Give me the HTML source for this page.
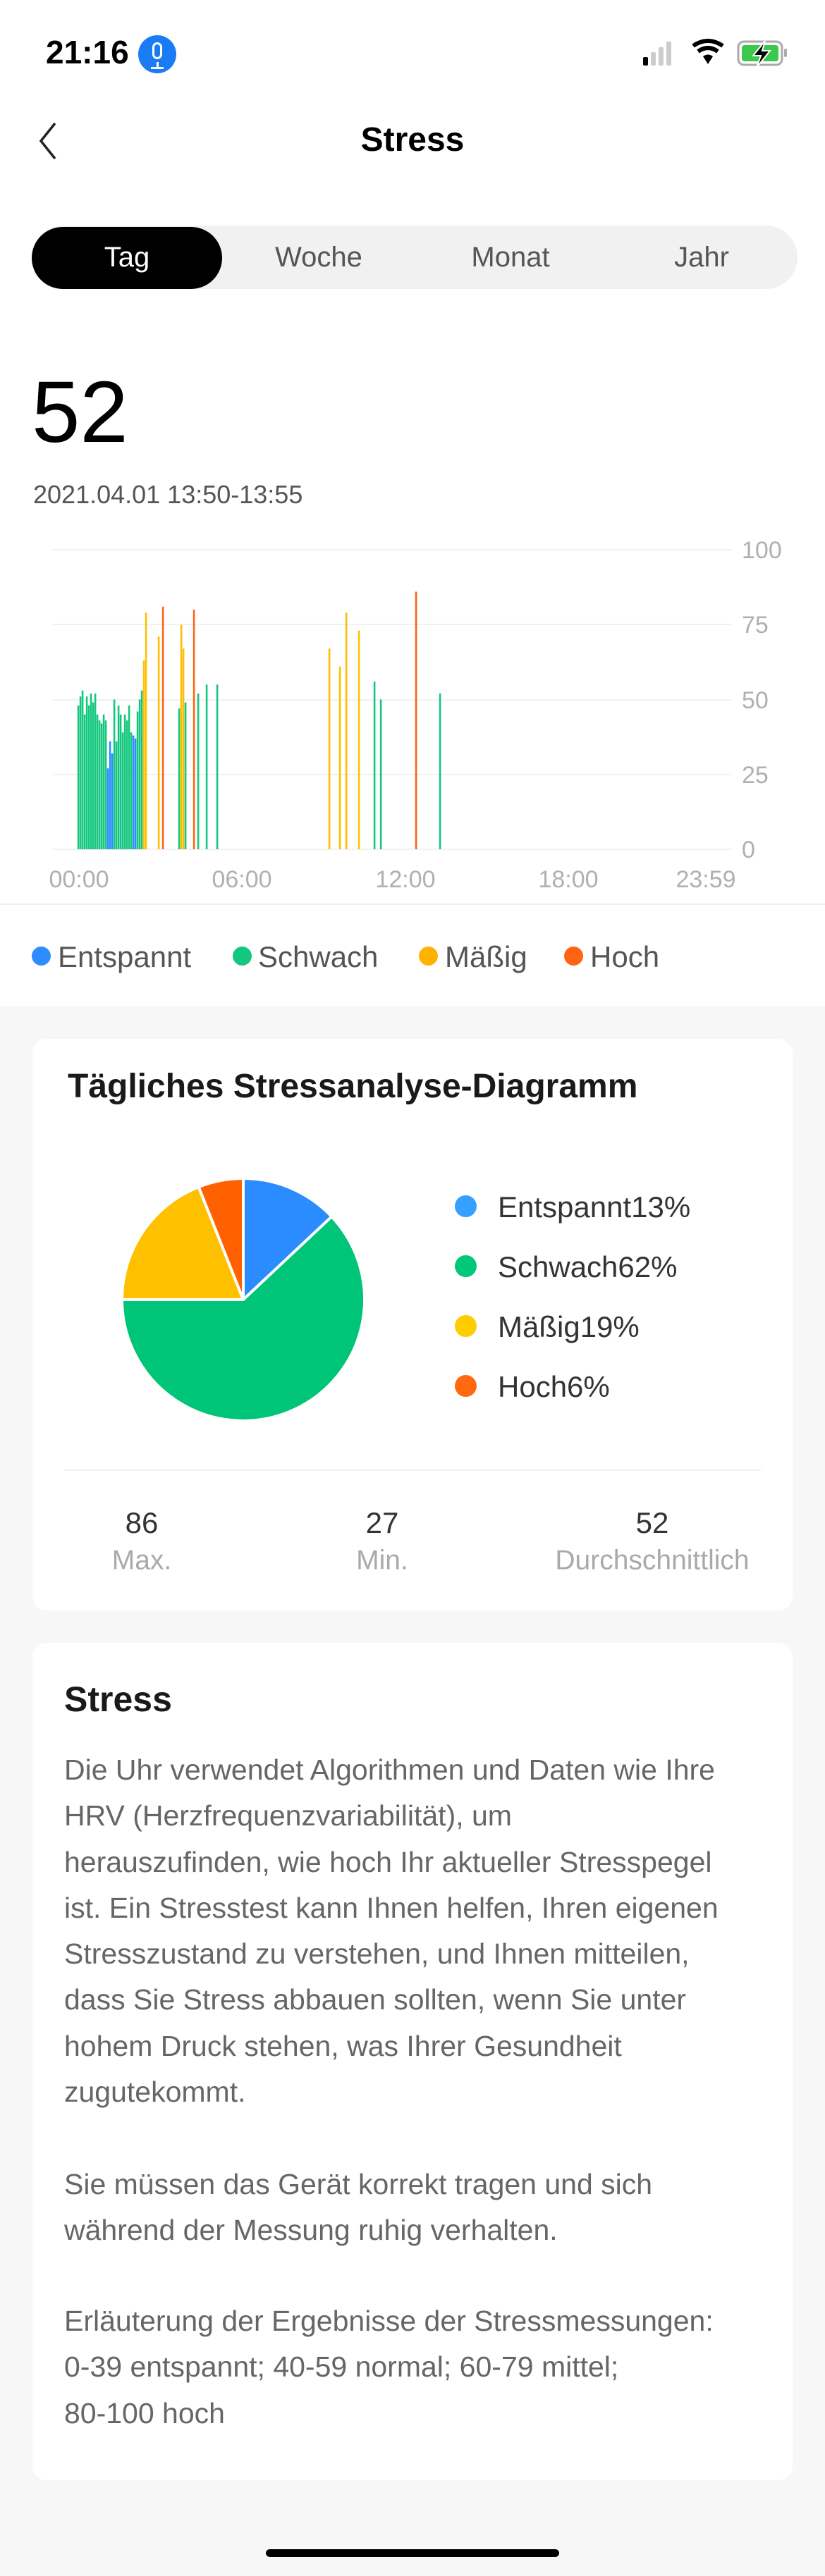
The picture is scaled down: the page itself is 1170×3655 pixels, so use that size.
<!DOCTYPE html>
<html><head><meta charset="utf-8"><style>
*{margin:0;padding:0;box-sizing:border-box}
body{width:1170px;height:3655px;background:#f7f7f7;font-family:"Liberation Sans",sans-serif;position:relative;overflow:hidden}
.abs{position:absolute;white-space:nowrap}
.top{position:absolute;left:0;top:0;width:1170px;height:1427px;background:#fff}
.card{position:absolute;left:46px;width:1078px;background:#fff;border-radius:20px}
.lg{position:absolute;font-size:42px;color:#555;line-height:1;transform:translateY(-50%)}
.dot{position:absolute;border-radius:50%}
.body{position:absolute;left:91px;font-size:41px;color:#666;line-height:65.3px;white-space:nowrap}
</style></head><body>
<div class="top"></div>
<!-- status bar -->
<div class="abs" style="left:65px;top:50px;font-size:46px;font-weight:bold;line-height:48px">21:16</div>
<div class="abs" style="left:196px;top:50px;width:54px;height:54px;border-radius:50%;background:#1a7cf5"></div>
<div class="abs" style="left:216px;top:60px;width:14px;height:24px;border:3px solid #fff;border-radius:7px"></div>
<div class="abs" style="left:222px;top:88px;width:3px;height:8px;background:#fff"></div>
<div class="abs" style="left:214px;top:95px;width:18px;height:3px;background:#fff"></div>
<svg class="abs" style="left:905px;top:55px" width="220" height="45">
<rect x="7" y="26" width="7" height="12" rx="2" fill="#000"/>
<rect x="18" y="19" width="7" height="19" rx="2" fill="#ccc"/>
<rect x="29" y="12" width="7" height="26" rx="2" fill="#ccc"/>
<rect x="40" y="4" width="7" height="34" rx="2" fill="#ccc"/>
<path d="M78 10 Q99 -4 120 10" stroke="#000" stroke-width="6" fill="none"/>
<path d="M85 18 Q99 8 113 18" stroke="#000" stroke-width="6" fill="none"/>
<path d="M92 25 L99 36 L106 25 Q99 20 92 25Z" fill="#000"/>
<rect x="142" y="4" width="62" height="33" rx="8" fill="none" stroke="#aaa" stroke-width="3"/>
<rect x="147" y="9" width="52" height="23" rx="4" fill="#3cc84a"/>
<rect x="207" y="14" width="4" height="12" rx="2" fill="#aaa"/>
<path d="M180 3 L163 24 L174 24 L168 41 L187 17 L176 17 Z" fill="#000" stroke="#fff" stroke-width="2"/>
</svg>
<!-- nav -->
<svg class="abs" style="left:50px;top:170px" width="40" height="60"><path d="M28 5 L8 30 L28 55" stroke="#222" stroke-width="3.5" fill="none"/></svg>
<div class="abs" style="left:0;width:1170px;text-align:center;top:174px;font-size:48px;font-weight:bold;line-height:50px">Stress</div>
<!-- segment -->
<div class="abs" style="left:45px;top:320px;width:1086px;height:90px;border-radius:45px;background:#f1f1f1"></div>
<div class="abs" style="left:45px;top:322px;width:270px;height:88px;border-radius:44px;background:#000"></div>
<div class="abs" style="left:130px;width:100px;text-align:center;top:343px;font-size:40px;color:#fff;line-height:44px">Tag</div>
<div class="abs" style="left:352px;width:200px;text-align:center;top:343px;font-size:40px;color:#555;line-height:44px">Woche</div>
<div class="abs" style="left:624px;width:200px;text-align:center;top:343px;font-size:40px;color:#555;line-height:44px">Monat</div>
<div class="abs" style="left:895px;width:200px;text-align:center;top:343px;font-size:40px;color:#555;line-height:44px">Jahr</div>
<!-- value -->
<div class="abs" style="left:45px;top:516px;font-size:123px;line-height:140px;color:#000">52</div>
<div class="abs" style="left:47px;top:682px;font-size:36px;line-height:40px;color:#555">2021.04.01 13:50-13:55</div>
<!-- chart -->
<svg class="abs" style="left:0;top:0" width="1170" height="1300">
<g stroke="#f1f1f1" stroke-width="2">
<line x1="75" y1="780" x2="1037" y2="780"/><line x1="75" y1="886" x2="1037" y2="886"/><line x1="75" y1="993" x2="1037" y2="993"/><line x1="75" y1="1099" x2="1037" y2="1099"/><line x1="75" y1="1205" x2="1037" y2="1205"/>
</g>
<g font-family="Liberation Sans" font-size="34" fill="#b0b0b0">
<text x="1052" y="792">100</text><text x="1052" y="898">75</text><text x="1052" y="1005">50</text><text x="1052" y="1111">25</text><text x="1052" y="1217">0</text>
<text x="112" y="1259" text-anchor="middle">00:00</text><text x="343" y="1259" text-anchor="middle">06:00</text><text x="575" y="1259" text-anchor="middle">12:00</text><text x="806" y="1259" text-anchor="middle">18:00</text><text x="1001" y="1259" text-anchor="middle">23:59</text>
</g>
<g id="bars"></g>
<line x1="0" y1="1283" x2="1170" y2="1283" stroke="#f0f0f0" stroke-width="2"/>
</svg>
<script>
var G='#14c77f',B='#2e8cff',Y='#ffbf00',O='#ff6414';
var d=[[111,48,G],[114,51,G],[117,53,G],[120,45,G],[123,51,G],[126,48,G],[129,52,G],[132,49,G],[135,52,G],[138,45,G],[141,43,G],[144,42,G],[147,45,G],[150,43,G],[153,27,B],[156,36,B],[159,32,B],[162,50,G],[165,36,G],[168,48,G],[171,45,G],[174,39,G],[177,45,G],[180,43,G],[183,48,G],[186,39,G],[189,38,B],[192,37,B],[195,46,G],[198,50,G],[201,53,G],[204,63,Y],[207,79,Y],[225,71,Y],[231,81,O],[254,47,G],[257,75,Y],[260,67,Y],[263,49,G],[275,80,O],[281,52,G],[293,55,G],[308,55,G],[467,67,Y],[482,61,Y],[491,79,Y],[509,73,Y],[531,56,G],[540,50,G],[590,86,O],[624,52,G]];
var s='';d.forEach(function(b){var h=b[1]*4.25;s+='<rect x="'+(b[0]-1.2)+'" y="'+(1205-h)+'" width="2.6" height="'+h+'" fill="'+b[2]+'"/>';});
document.getElementById('bars').innerHTML=s;
</script>
<!-- legend -->
<div class="dot" style="left:45px;top:1343px;width:27px;height:27px;background:#2e8cff"></div><div class="lg" style="left:82px;top:1358px">Entspannt</div>
<div class="dot" style="left:330px;top:1343px;width:27px;height:27px;background:#14c77f"></div><div class="lg" style="left:366px;top:1358px">Schwach</div>
<div class="dot" style="left:594px;top:1343px;width:27px;height:27px;background:#ffb300"></div><div class="lg" style="left:631px;top:1358px">Mäßig</div>
<div class="dot" style="left:800px;top:1343px;width:27px;height:27px;background:#ff6414"></div><div class="lg" style="left:837px;top:1358px">Hoch</div>
<!-- card 1 -->
<div class="card" style="top:1474px;height:811px"></div>
<div class="abs" style="left:96px;top:1515px;font-size:48px;font-weight:bold;color:#1a1a1a;line-height:54px">Tägliches Stressanalyse-Diagramm</div>
<svg class="abs" style="left:0;top:0" width="1170" height="2300">
<g stroke="#fff" stroke-width="4" stroke-linejoin="round">
<path d="M345 1844 L345 1672 A172 172 0 0 1 470.4 1726.2 Z" fill="#2a8cff"/>
<path d="M345 1844 L470.4 1726.2 A172 172 0 1 1 173 1844 Z" fill="#00c477"/>
<path d="M345 1844 L173 1844 A172 172 0 0 1 281.7 1684.1 Z" fill="#ffc000"/>
<path d="M345 1844 L281.7 1684.1 A172 172 0 0 1 345 1672 Z" fill="#ff6000"/>
</g>
<line x1="91" y1="2086" x2="1079" y2="2086" stroke="#f0f0f0" stroke-width="2"/>
</svg>
<div class="dot" style="left:645px;top:1696px;width:31px;height:31px;background:#35a0ff"></div><div class="lg" style="left:706px;top:1713px;color:#333">Entspannt13%</div>
<div class="dot" style="left:645px;top:1781px;width:31px;height:31px;background:#00c87a"></div><div class="lg" style="left:706px;top:1798px;color:#333">Schwach62%</div>
<div class="dot" style="left:645px;top:1866px;width:31px;height:31px;background:#ffcc00"></div><div class="lg" style="left:706px;top:1883px;color:#333">Mäßig19%</div>
<div class="dot" style="left:645px;top:1951px;width:31px;height:31px;background:#ff6a10"></div><div class="lg" style="left:706px;top:1968px;color:#333">Hoch6%</div>
<div class="lg" style="left:101px;width:200px;text-align:center;top:2161px;color:#333">86</div>
<div class="lg" style="left:442px;width:200px;text-align:center;top:2161px;color:#333">27</div>
<div class="lg" style="left:775px;width:300px;text-align:center;top:2161px;color:#333">52</div>
<div class="lg" style="left:101px;width:200px;text-align:center;top:2214px;color:#aaa;font-size:39px">Max.</div>
<div class="lg" style="left:442px;width:200px;text-align:center;top:2214px;color:#aaa;font-size:39px">Min.</div>
<div class="lg" style="left:775px;width:300px;text-align:center;top:2214px;color:#aaa;font-size:39px">Durchschnittlich</div>
<!-- card 2 -->
<div class="card" style="top:2331px;height:1188px"></div>
<div class="abs" style="left:91px;top:2383px;font-size:50px;font-weight:bold;color:#1a1a1a;line-height:56px">Stress</div>
<div class="body" style="top:2479px">Die Uhr verwendet Algorithmen und Daten wie Ihre<br>HRV (Herzfrequenzvariabilität), um<br>herauszufinden, wie hoch Ihr aktueller Stresspegel<br>ist. Ein Stresstest kann Ihnen helfen, Ihren eigenen<br>Stresszustand zu verstehen, und Ihnen mitteilen,<br>dass Sie Stress abbauen sollten, wenn Sie unter<br>hohem Druck stehen, was Ihrer Gesundheit<br>zugutekommt.</div>
<div class="body" style="top:3067px">Sie müssen das Gerät korrekt tragen und sich<br>während der Messung ruhig verhalten.</div>
<div class="body" style="top:3261px">Erläuterung der Ergebnisse der Stressmessungen:<br>0-39 entspannt; 40-59 normal; 60-79 mittel;<br>80-100 hoch</div>
<div class="abs" style="left:377px;top:3617px;width:416px;height:11px;border-radius:6px;background:#000"></div>
</body></html>
